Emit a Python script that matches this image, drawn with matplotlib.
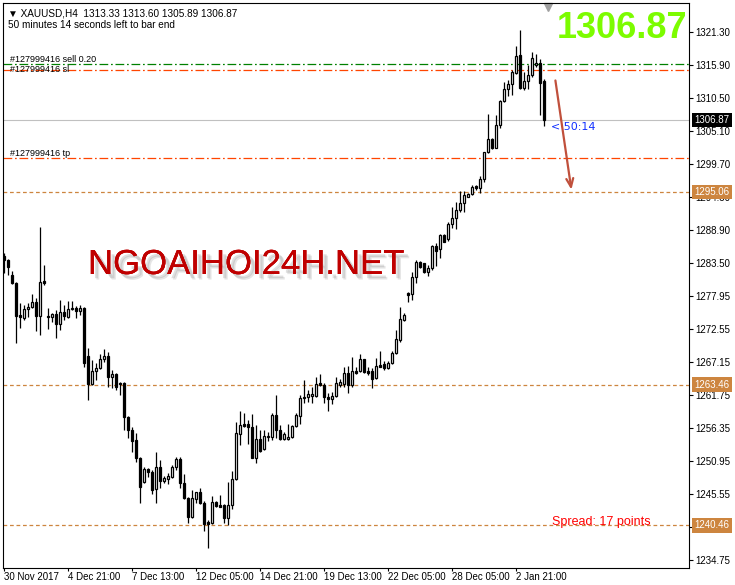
import numpy as np
import matplotlib.pyplot as plt
import matplotlib.patheffects as pe
from matplotlib.transforms import blended_transform_factory

plt.rcParams['font.family'] = ['Liberation Sans', 'DejaVu Sans']

symbol = 'XAUUSD,H4'

# H4 candles, oldest first
opens = [1284.58, 1283.92, 1281.46, 1280.21, 1274.91, 1274.47, 1275.84, 1276.27, 1277.09, 1274.80,
         1280.48, 1274.69, 1274.63, 1275.07, 1273.38, 1275.34, 1274.63, 1275.94, 1276.05, 1275.62,
         1276.00, 1268.18, 1263.54, 1265.78, 1266.16, 1267.64, 1268.18, 1264.80, 1265.23, 1263.70,
         1263.70, 1258.24, 1256.05, 1254.41, 1251.41, 1247.47, 1249.66, 1249.11, 1246.33, 1250.04,
         1247.69, 1247.97, 1248.40, 1249.93, 1251.25, 1247.31, 1244.85, 1241.74, 1244.69, 1245.84,
         1244.14, 1240.92, 1240.86, 1244.20, 1243.70, 1243.76, 1241.68, 1243.76, 1247.97, 1255.34,
         1256.98, 1256.98, 1256.60, 1251.52, 1254.58, 1252.88, 1254.96, 1254.96, 1258.51, 1256.05,
         1254.52, 1254.52, 1254.85, 1256.71, 1258.40, 1261.51, 1261.51, 1261.68, 1261.68, 1263.70,
         1263.43, 1261.51, 1261.08, 1261.62, 1263.43, 1263.59, 1265.34, 1263.43, 1265.78, 1265.72,
         1267.63, 1265.78, 1265.78, 1264.52, 1266.71, 1266.87, 1266.16, 1266.98, 1268.62, 1270.80,
         1274.08, 1278.45, 1278.30, 1281.08, 1283.54, 1283.38, 1282.01, 1282.56, 1286.22, 1285.67,
         1288.02, 1287.31, 1289.77, 1290.76, 1292.12, 1293.22, 1294.31, 1294.69, 1296.06, 1295.67,
         1297.15, 1301.58, 1303.71, 1302.34, 1306.06, 1309.99, 1311.90, 1312.72, 1314.53, 1317.53,
         1312.18, 1313.27, 1314.25, 1315.89, 1316.17, 1313.33]
highs = [1285.02, 1284.03, 1282.17, 1280.37, 1276.82, 1276.55, 1276.93, 1278.35, 1277.64, 1289.39,
         1283.10, 1276.00, 1275.29, 1275.73, 1277.37, 1276.55, 1277.20, 1277.20, 1276.38, 1276.55,
         1276.16, 1269.44, 1267.53, 1266.98, 1268.46, 1269.28, 1268.90, 1265.89, 1265.34, 1263.98,
         1263.87, 1258.35, 1256.60, 1255.51, 1251.57, 1250.04, 1249.88, 1249.50, 1252.39, 1251.14,
         1248.57, 1248.95, 1250.32, 1251.57, 1251.57, 1248.84, 1245.12, 1246.22, 1245.94, 1246.49,
         1244.41, 1241.30, 1245.23, 1244.41, 1245.40, 1243.87, 1247.47, 1249.39, 1257.31, 1259.17,
         1258.90, 1257.69, 1258.62, 1256.87, 1256.05, 1256.05, 1255.67, 1258.79, 1261.79, 1256.87,
         1255.78, 1256.98, 1256.87, 1258.78, 1261.79, 1264.25, 1262.61, 1263.15, 1264.79, 1265.18,
         1263.70, 1262.06, 1262.33, 1264.79, 1264.36, 1266.32, 1266.54, 1267.96, 1266.43, 1268.51,
         1267.74, 1266.32, 1266.16, 1267.80, 1269.06, 1267.36, 1267.42, 1269.06, 1272.44, 1276.27,
         1275.18, 1278.73, 1281.90, 1283.93, 1283.76, 1283.49, 1283.11, 1286.38, 1286.66, 1288.13,
         1288.13, 1290.21, 1292.67, 1293.49, 1295.29, 1295.29, 1294.96, 1296.22, 1296.22, 1297.75,
         1301.68, 1307.81, 1303.87, 1307.70, 1310.15, 1313.16, 1313.43, 1315.07, 1319.06, 1321.63,
         1314.80, 1315.89, 1318.08, 1317.64, 1316.82, 1313.60]
lows = [1281.74, 1281.46, 1279.99, 1270.37, 1272.72, 1274.09, 1274.63, 1276.00, 1272.34, 1271.63,
        1279.82, 1272.56, 1273.81, 1271.08, 1272.45, 1274.09, 1274.47, 1275.73, 1274.36, 1274.91,
        1266.44, 1260.97, 1263.43, 1264.25, 1266.00, 1267.26, 1263.16, 1262.88, 1262.61, 1261.79,
        1256.05, 1254.69, 1252.50, 1250.86, 1244.03, 1247.31, 1248.40, 1245.51, 1244.03, 1246.49,
        1247.31, 1247.15, 1248.13, 1249.50, 1246.49, 1244.69, 1240.86, 1241.57, 1244.03, 1243.87,
        1239.55, 1236.66, 1240.64, 1243.38, 1243.43, 1240.86, 1240.48, 1243.05, 1247.86, 1253.59,
        1256.60, 1253.76, 1251.41, 1250.70, 1252.39, 1252.78, 1254.31, 1254.41, 1254.68, 1254.41,
        1254.41, 1254.41, 1254.68, 1256.60, 1257.03, 1260.42, 1260.69, 1260.42, 1261.51, 1263.26,
        1260.42, 1259.22, 1260.31, 1261.51, 1263.15, 1263.15, 1262.17, 1263.15, 1265.23, 1265.61,
        1265.45, 1265.07, 1262.88, 1264.36, 1266.32, 1265.89, 1266.00, 1266.87, 1268.51, 1270.53,
        1273.97, 1277.09, 1277.37, 1280.10, 1282.56, 1281.74, 1281.36, 1282.29, 1283.00, 1284.20,
        1286.82, 1287.09, 1289.12, 1289.01, 1291.85, 1291.74, 1294.20, 1294.58, 1295.40, 1294.85,
        1296.77, 1301.41, 1302.12, 1302.23, 1305.51, 1309.88, 1310.87, 1310.97, 1314.36, 1311.96,
        1311.79, 1311.96, 1313.98, 1315.62, 1307.70, 1305.89]
closes = [1283.92, 1282.83, 1280.10, 1274.80, 1274.63, 1275.84, 1276.27, 1276.98, 1274.80, 1280.37,
          1280.21, 1274.63, 1275.02, 1273.38, 1275.34, 1274.80, 1275.84, 1276.00, 1275.62, 1276.00,
          1266.98, 1263.54, 1265.73, 1266.27, 1267.64, 1268.18, 1264.80, 1265.23, 1263.16, 1263.59,
          1258.24, 1256.05, 1254.31, 1251.41, 1246.76, 1249.66, 1249.11, 1246.22, 1250.04, 1247.69,
          1248.13, 1248.51, 1249.93, 1251.25, 1247.31, 1244.85, 1241.85, 1244.85, 1245.84, 1244.03,
          1240.64, 1240.64, 1244.20, 1243.59, 1243.49, 1241.68, 1243.76, 1247.97, 1255.51, 1256.87,
          1256.76, 1256.60, 1251.52, 1254.58, 1252.61, 1255.07, 1255.07, 1258.51, 1256.05, 1254.52,
          1255.39, 1254.96, 1256.71, 1258.51, 1261.24, 1261.24, 1261.95, 1261.90, 1263.59, 1263.43,
          1261.41, 1261.08, 1261.62, 1263.81, 1263.97, 1265.34, 1263.43, 1265.78, 1265.34, 1267.63,
          1265.61, 1265.45, 1264.47, 1266.60, 1266.43, 1266.16, 1266.98, 1268.62, 1270.91, 1274.19,
          1274.90, 1278.24, 1281.08, 1283.54, 1282.72, 1282.01, 1282.56, 1286.22, 1285.46, 1288.02,
          1286.93, 1289.77, 1290.76, 1292.12, 1293.22, 1294.58, 1294.75, 1295.95, 1295.67, 1297.15,
          1301.58, 1303.71, 1302.23, 1306.06, 1309.99, 1311.90, 1312.78, 1314.80, 1317.37, 1312.18,
          1313.27, 1314.25, 1316.99, 1316.17, 1312.89, 1306.87]

date_ticks = [0, 16, 32, 48, 64, 80, 96, 112, 128]
date_labels = ['30 Nov 2017', '4 Dec 21:00', '7 Dec 13:00', '12 Dec 05:00', '14 Dec 21:00',
               '19 Dec 13:00', '22 Dec 05:00', '28 Dec 05:00', '2 Jan 21:00']
price_ticks = [1321.30, 1315.90, 1310.50, 1305.10, 1299.70, 1294.30, 1288.90, 1283.50, 1277.95,
               1272.55, 1267.15, 1261.75, 1256.35, 1250.95, 1245.55, 1240.15, 1234.75]

ticket = '#127999416'
order_lots = 0.20
order_open = 1316.05
order_sl = 1315.02
order_tp = 1300.64
levels = [1295.06, 1263.46, 1240.46]
spread_points = 17
time_left = (50, 14)
arrow_from = (137.8, 1313.8)
arrow_to = (142.0, 1295.0)

fig = plt.figure(figsize=(7.35, 5.85), dpi=100)
ax = fig.add_axes([3 / 735, 17 / 585, 686 / 735, 565 / 585])

o = np.array(opens)
h = np.array(highs)
l = np.array(lows)
c = np.array(closes)
x = np.arange(len(c))
up = c >= o

# --- candles ---
ax.vlines(x, l, h, color='black', lw=0.9, zorder=3)
body_lo = np.minimum(o, c)
body_h = np.maximum(np.abs(c - o), 0.06)
ax.bar(x[up], body_h[up], bottom=body_lo[up], width=0.55, color='white',
       edgecolor='black', lw=0.9, zorder=4)
ax.bar(x[~up], body_h[~up], bottom=body_lo[~up], width=0.55, color='black',
       edgecolor='black', lw=0.9, zorder=4)

# --- horizontal levels ---
ax.axhline(order_open, color='#008000', lw=0.9, dashes=(7, 2.2, 1.4, 2.2), zorder=2)
ax.axhline(order_sl, color='#ff4500', lw=0.9, dashes=(7, 2.2, 1.4, 2.2), zorder=2)
ax.axhline(order_tp, color='#ff4500', lw=0.9, dashes=(7, 2.2, 1.4, 2.2), zorder=2)
ax.axhline(c[-1], color='#c0c0c0', lw=0.8, zorder=1)
for lv in levels:
    ax.axhline(lv, color='#cd853f', lw=0.9, dashes=(3, 2.2), zorder=2)

trans = blended_transform_factory(ax.transAxes, ax.transData)
ax.text(0.0102, order_open + 0.4, f'{ticket} sell {order_lots:.2f}', transform=trans,
        fontsize=6.5, va='baseline')
ax.text(0.0102, order_sl - 0.3, f'{ticket} sl', transform=trans, fontsize=6.5, va='baseline')
ax.text(0.0102, order_tp + 0.3, f'{ticket} tp', transform=trans, fontsize=6.5, va='baseline')

# --- arrow and labels near last bar ---
ax.annotate('', xy=arrow_to, xytext=arrow_from,
            arrowprops=dict(arrowstyle='->,head_length=0.6,head_width=0.25',
                            color='#c0503c', lw=1.6), zorder=6)
ax.text(len(c) + 0.8, c[-1] - 0.3, f'< {time_left[0]}:{time_left[1]:02d}', color='#1030ff',
        fontsize=8, va='top', family='DejaVu Sans')
ax.text(len(c) + 1.0, levels[-1] + 0.45, f'Spread: {spread_points} points', color='#ff0000',
        fontsize=9, va='center')
ax.plot([len(c) + 0.05], [0.993], marker='v', color='#a0a0a0', markersize=6,
        transform=blended_transform_factory(ax.transData, ax.transAxes), clip_on=False)

# --- price boxes on the right scale ---
for lv in levels:
    ax.annotate(f'{lv:.2f}', xy=(1, lv), xycoords=('axes fraction', 'data'), xytext=(4, 0),
                textcoords='offset points', va='center', ha='left', color='white', fontsize=7,
                bbox=dict(boxstyle='square,pad=0.25', fc='#cd853f', ec='none'),
                annotation_clip=False, zorder=10)
ax.annotate(f'{c[-1]:.2f}', xy=(1, c[-1]), xycoords=('axes fraction', 'data'), xytext=(4, 0),
            textcoords='offset points', va='center', ha='left', color='white', fontsize=7,
            bbox=dict(boxstyle='square,pad=0.25', fc='black', ec='none'),
            annotation_clip=False, zorder=10)

# --- axes ---
ax.set_xlim(-0.2, 171.3)
ax.set_ylim(1233.43, 1326.05)
ax.yaxis.tick_right()
ax.set_yticks(price_ticks)
ax.set_yticklabels([f'{v:.2f}' for v in price_ticks])
ax.set_xticks(date_ticks)
ax.set_xticklabels(date_labels, ha='left')
ax.tick_params(axis='y', length=3, width=0.8, pad=1.5, labelsize=7)
ax.tick_params(axis='x', length=2.5, width=0.8, pad=0.5, labelsize=7)
for s in ax.spines.values():
    s.set_linewidth(0.8)

# --- header and watermark ---
fig.text(8 / 735, 1 - 16 / 585,
         f'\u25bc {symbol}  {o[-1]:.2f} {h[-1]:.2f} {l[-1]:.2f} {c[-1]:.2f}',
         fontsize=7.2, va='baseline')
fig.text(8 / 735, 1 - 28 / 585,
         f'{time_left[0]} minutes {time_left[1]} seconds left to bar end',
         fontsize=7.2, va='baseline')
fig.text(687 / 735, 1 - 38 / 585, f'{c[-1]:.2f}', fontsize=26, fontweight='bold',
         color='#7cfc00', ha='right', va='baseline')
fig.text(88 / 735, 1 - 274 / 585, 'NGOAIHOI24H.NET', fontsize=25, color='#c00000',
         va='baseline',
         path_effects=[pe.withSimplePatchShadow(offset=(4, -4), shadow_rgbFace='#999999', alpha=0.25),
                       pe.withSimplePatchShadow(offset=(3, -3), shadow_rgbFace='#999999', alpha=0.3),
                       pe.Normal()])

fig.savefig('out.png', dpi=100)
